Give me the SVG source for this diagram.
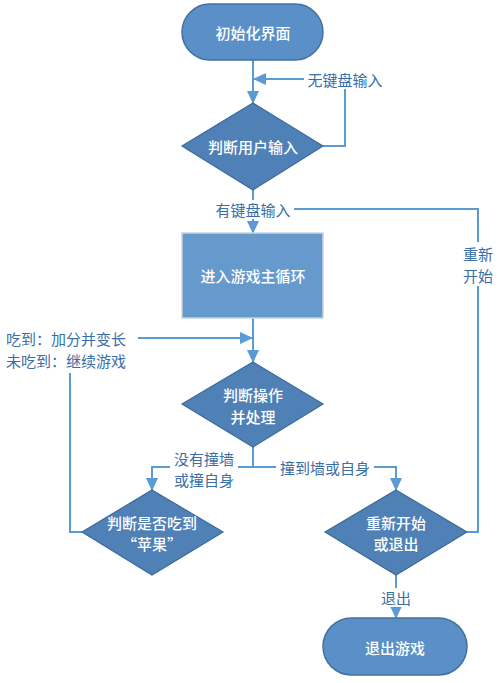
<svg xmlns="http://www.w3.org/2000/svg" width="500" height="683" viewBox="0 0 500 683">
<style>
.term{fill:#5b8fc7;stroke:#41719c;stroke-width:1.5}
.proc{fill:#6699cc;stroke:#c9d3e0;stroke-width:1.5}
.dec{fill:#4f80b6;stroke:#3b6a9a;stroke-width:1.2}
.nt{font-family:"Noto Sans CJK SC","Noto Sans",sans-serif;font-size:15px;font-weight:500;fill:#ffffff;text-anchor:middle;dominant-baseline:central}
.lt{font-family:"Noto Sans CJK SC","Noto Sans",sans-serif;font-size:15px;fill:#3a6ea5;dominant-baseline:central}
.c{fill:none;stroke:#5b9bd5;stroke-width:2}
.bg{fill:#ffffff}
</style>
<defs>
<marker id="ah" markerWidth="13" markerHeight="12" refX="12" refY="6" orient="auto" markerUnits="userSpaceOnUse">
<path d="M0,0 L13,6 L0,12 Z" fill="#5b9bd5"/>
</marker>
</defs>
<rect width="500" height="683" fill="#ffffff"/>
<g id="connectors">
<path class="c" d="M253,60 V103" marker-end="url(#ah)"/>
<path class="c" d="M323,146 H345 V79 H254" marker-end="url(#ah)"/>
<path class="c" d="M253,190 V233" marker-end="url(#ah)"/>
<path class="c" d="M467,532 H478 V209 H253"/>
<path class="c" d="M253,318 V362" marker-end="url(#ah)"/>
<path class="c" d="M82,532 H70 V338 H252" marker-end="url(#ah)"/>
<path class="c" d="M253,447 V467 H152 V490" marker-end="url(#ah)"/>
<path class="c" d="M253,467 H396 V490" marker-end="url(#ah)"/>
<path class="c" d="M396,575 V618" marker-end="url(#ah)"/>
<rect class="bg" x="304" y="70" width="82" height="19"/>
<text class="lt" x="345" y="79" text-anchor="middle">无键盘输入</text>
<rect class="bg" x="212" y="200" width="82" height="19"/>
<text class="lt" x="253" y="209" text-anchor="middle">有键盘输入</text>
<rect class="bg" x="462" y="242" width="34" height="44"/>
<text class="lt" x="478" y="253" text-anchor="middle">重新</text>
<text class="lt" x="478" y="275" text-anchor="middle">开始</text>
<rect class="bg" x="4" y="329" width="134" height="44"/>
<text class="lt" x="6" y="338">吃到：加分并变长</text>
<text class="lt" x="6" y="360">未吃到：继续游戏</text>
<rect class="bg" x="170" y="448" width="68" height="42"/>
<text class="lt" x="204" y="458" text-anchor="middle">没有撞墙</text>
<text class="lt" x="204" y="479" text-anchor="middle">或撞自身</text>
<rect class="bg" x="276" y="458" width="98" height="19"/>
<text class="lt" x="325" y="467" text-anchor="middle">撞到墙或自身</text>
<rect class="bg" x="378" y="588" width="36" height="19"/>
<text class="lt" x="396" y="597" text-anchor="middle">退出</text>
</g>
<g id="start">
<rect class="term" x="182" y="4" width="141" height="56" rx="28"/>
<text class="nt" x="253" y="32">初始化界面</text>
</g>
<g id="judgeInput">
<polygon class="dec" points="253,103 323,146 253,190 182,146"/>
<text class="nt" x="253" y="146">判断用户输入</text>
</g>
<g id="mainLoop">
<rect class="proc" x="182" y="233" width="141" height="85"/>
<text class="nt" x="253" y="275">进入游戏主循环</text>
</g>
<g id="judgeOp">
<polygon class="dec" points="253,362 323,404 253,447 182,404"/>
<text class="nt" x="253" y="394">判断操作</text>
<text class="nt" x="253" y="416">并处理</text>
</g>
<g id="judgeApple">
<polygon class="dec" points="152,490 223,532 152,575 82,532"/>
<text class="nt" x="152" y="522">判断是否吃到</text>
<text class="nt" x="152" y="543">“苹果”</text>
</g>
<g id="restartOrQuit">
<polygon class="dec" points="396,490 467,532 396,575 325,532"/>
<text class="nt" x="396" y="522">重新开始</text>
<text class="nt" x="396" y="543">或退出</text>
</g>
<g id="end">
<rect class="term" x="323" y="618" width="144" height="57" rx="28.5"/>
<text class="nt" x="395" y="647">退出游戏</text>
</g>
</svg>
